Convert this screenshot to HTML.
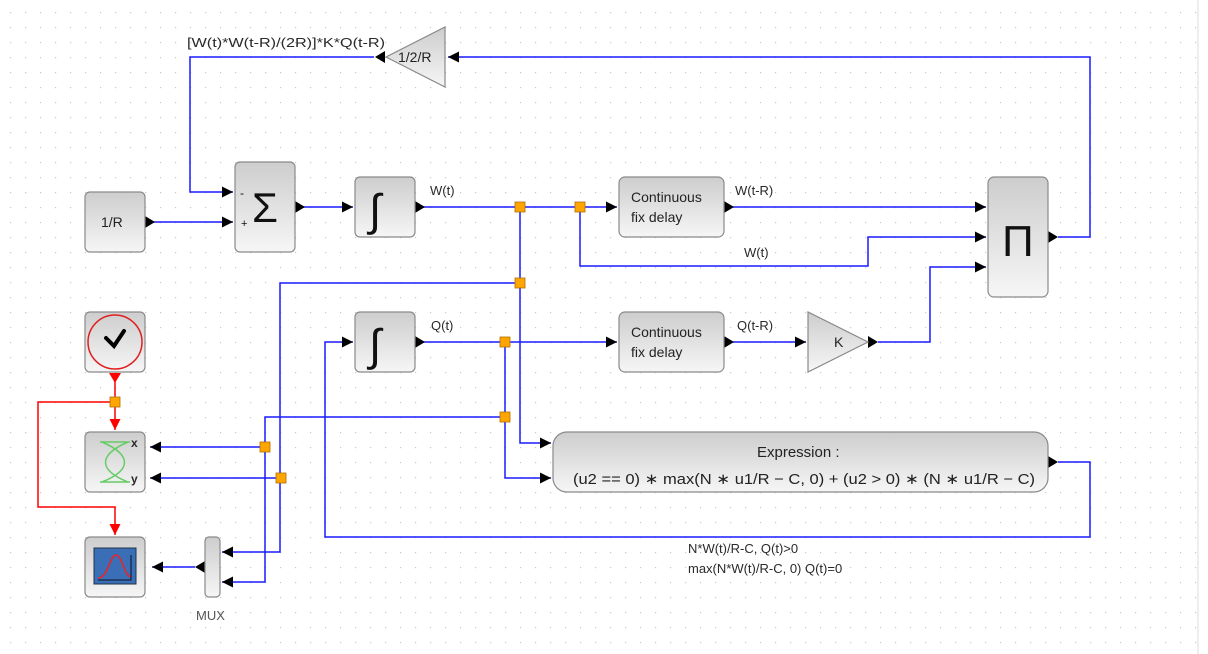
<!DOCTYPE html>
<html><head><meta charset="utf-8"><style>
body{margin:0;width:1208px;height:654px;overflow:hidden;background:#fff;}
svg{display:block}
text{font-family:"Liberation Sans",sans-serif;}
</style></head><body>
<svg width="1208" height="654" viewBox="0 0 1208 654" xmlns="http://www.w3.org/2000/svg">
<defs>
<pattern id="g" x="10" y="12" width="15" height="15" patternUnits="userSpaceOnUse"><rect x="0" y="0" width="1.2" height="1.2" fill="#c8c8c8"/></pattern>
<linearGradient id="bg" x1="0" y1="0" x2="0" y2="1"><stop offset="0" stop-color="#cdcdcd"/><stop offset="1" stop-color="#f6f6f6"/></linearGradient>
<marker id="a" viewBox="0 0 10 10" refX="10" refY="5" markerWidth="11" markerHeight="12" markerUnits="userSpaceOnUse" orient="auto"><path d="M0,0L10,5L0,10z" fill="#000"/></marker>
<marker id="r" viewBox="0 0 10 10" refX="10" refY="5" markerWidth="11" markerHeight="12" markerUnits="userSpaceOnUse" orient="auto"><path d="M0,0L10,5L0,10z" fill="#f00"/></marker>
</defs>
<rect width="1208" height="654" fill="url(#g)"/>
<line x1="1198" y1="0" x2="1198" y2="654" stroke="#ddd"/>

<g fill="none" stroke="#1a1aff" stroke-width="1.5">
<polyline points="153,222 233,222" marker-end="url(#a)"/>
<polyline points="374,57 190,57 190,192 233,192" marker-end="url(#a)"/>
<polyline points="303,207 353,207" marker-end="url(#a)"/>
<polyline points="423,207 617,207" marker-end="url(#a)"/>
<polyline points="732,207 986,207" marker-end="url(#a)"/>
<polyline points="580,207 580,266 868,266 868,237 986,237" marker-end="url(#a)"/>
<polyline points="1058,237 1090,237 1090,57 448,57" marker-end="url(#a)"/>
<polyline points="520,207 520,443 551,443" marker-end="url(#a)"/>
<polyline points="520,283 280,283 280,552 222,552" marker-end="url(#a)"/>
<polyline points="280,478 150,478" marker-end="url(#a)"/>
<polyline points="423,342 617,342" marker-end="url(#a)"/>
<polyline points="505,342 505,478 551,478" marker-end="url(#a)"/>
<polyline points="505,417 265,417 265,582 222,582" marker-end="url(#a)"/>
<polyline points="265,447 150,447" marker-end="url(#a)"/>
<polyline points="732,342 806,342" marker-end="url(#a)"/>
<polyline points="878,342 930,342 930,267 986,267" marker-end="url(#a)"/>
<polyline points="1058,462 1090,462 1090,537 325,537 325,342 353,342" marker-end="url(#a)"/>
<polyline points="195,567 152,567" marker-end="url(#a)"/>
</g>
<g fill="none" stroke="#f00" stroke-width="1.5">
<polyline points="115,380 115,430" marker-end="url(#r)"/>
<polyline points="115,402 38,402 38,507 115,507 115,535" marker-end="url(#r)"/>
</g>
<path d="M109,373L121,373L115,383z" fill="#f00"/>
<g fill="#000">
<path d="M145,216L155,222L145,228z"/>
<path d="M295,201L305,207L295,213z"/>
<path d="M415,201L425,207L415,213z"/>
<path d="M724,201L734,207L724,213z"/>
<path d="M1048,231L1058,237L1048,243z"/>
<path d="M415,336L425,342L415,348z"/>
<path d="M724,336L734,342L724,348z"/>
<path d="M868,336L878,342L868,348z"/>
<path d="M1048,456L1058,462L1048,468z"/>
<path d="M385,51L375,57L385,63z"/>
<path d="M205,561L195,567L205,573z"/>
</g>
<g fill="#ffa500" stroke="#b07000" stroke-width="0.8">
<rect x="515" y="202" width="10" height="10"/>
<rect x="575" y="202" width="10" height="10"/>
<rect x="515" y="278" width="10" height="10"/>
<rect x="500" y="337" width="10" height="10"/>
<rect x="500" y="412" width="10" height="10"/>
<rect x="260" y="442" width="10" height="10"/>
<rect x="276" y="473" width="10" height="10"/>
<rect x="110" y="397" width="10" height="10"/>
</g>
<g fill="url(#bg)" stroke="#8a8a8a" stroke-width="1.2">
<rect x="85" y="192" width="60" height="60" rx="5"/>
<rect x="235" y="162" width="60" height="90" rx="5"/>
<rect x="355" y="177" width="60" height="60" rx="5"/>
<rect x="619" y="177" width="105" height="60" rx="6"/>
<rect x="988" y="177" width="60" height="120" rx="6"/>
<rect x="355" y="312" width="60" height="60" rx="5"/>
<rect x="619" y="312" width="105" height="60" rx="6"/>
<rect x="553" y="432" width="495" height="60" rx="14"/>
<rect x="85" y="312" width="60" height="60" rx="5"/>
<rect x="85" y="432" width="60" height="60" rx="5"/>
<rect x="85" y="537" width="60" height="60" rx="5"/>
<rect x="205" y="537" width="15" height="60" rx="4"/>
<path d="M445,27L445,87L386,57z"/>
<path d="M808,312L808,372L868,342z"/>
</g>
<g fill="#222" font-size="14">
<text x="101" y="227">1/R</text>
<text x="398" y="62">1/2/R</text>
<text x="834" y="347">K</text>
<text x="631" y="202">Continuous</text>
<text x="631" y="222">fix delay</text>
<text x="631" y="337">Continuous</text>
<text x="631" y="357">fix delay</text>
<text x="757" y="457" font-size="15">Expression :</text>
<text x="573" y="484" font-family="DejaVu Sans,sans-serif" font-size="15" textLength="462" lengthAdjust="spacingAndGlyphs">(u2 == 0) ∗ max(N ∗ u1/R − C, 0) + (u2 &gt; 0) ∗ (N ∗ u1/R − C)</text>
</g>
<g fill="#2a2a2a" font-size="13">
<text x="187" y="47" textLength="198" lengthAdjust="spacingAndGlyphs">[W(t)*W(t-R)/(2R)]*K*Q(t-R)</text>
<text x="430" y="195">W(t)</text>
<text x="735" y="195">W(t-R)</text>
<text x="744" y="257">W(t)</text>
<text x="431" y="330">Q(t)</text>
<text x="737" y="330">Q(t-R)</text>
<text x="688" y="553">N*W(t)/R-C, Q(t)&gt;0</text>
<text x="688" y="573">max(N*W(t)/R-C, 0) Q(t)=0</text>
<text x="196" y="620" fill="#555">MUX</text>
<text x="131" y="447" font-size="12" font-weight="bold">x</text>
<text x="131" y="483" font-size="12" font-weight="bold">y</text>
</g>
<text x="252" y="222" font-family="Liberation Serif,serif" font-size="42" fill="#111">Σ</text>
<text x="240" y="197" font-size="12" fill="#111">-</text>
<text x="241" y="227" font-size="11" fill="#111">+</text>
<text x="1002" y="256" font-family="Liberation Serif,serif" font-size="44" fill="#111">Π</text>
<text x="369" y="225" font-family="DejaVu Serif,serif" font-size="44" font-style="italic" fill="#111">∫</text>
<text x="369" y="360" font-family="DejaVu Serif,serif" font-size="44" font-style="italic" fill="#111">∫</text>
<circle cx="115" cy="342" r="27" fill="none" stroke="#e02020" stroke-width="1.5"/>
<path d="M106,338L114,346L124,331" fill="none" stroke="#000" stroke-width="4" stroke-linecap="round"/>
<path d="M100,442L130,442M100,482L130,482M102,442C132,455 132,470 102,482M128,442C98,455 98,470 128,482" fill="none" stroke="#6c6" stroke-width="1.5"/>
<rect x="94" y="548" width="42" height="36" fill="#3a6fb8" stroke="#234" stroke-width="1"/>
<path d="M98,578C108,578 110,555 116,555C122,555 124,576 131,577" fill="none" stroke="#e22" stroke-width="1.5"/>
<path d="M131,555L131,580L98,580" fill="none" stroke="#112" stroke-width="1"/>
</svg>
</body></html>
